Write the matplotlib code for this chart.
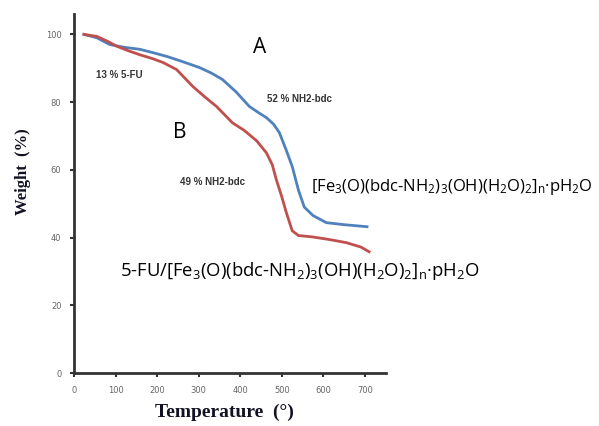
#!/usr/bin/env python3
"""TGA curves of the NH2-MIL type iron framework before and after 5-FU loading."""

import matplotlib
matplotlib.use("Agg")
import matplotlib.pyplot as plt

# curve A: bare framework
temp_a = [24, 55, 86, 120, 158, 190, 223, 260, 302, 330, 357, 390, 422, 445,
          463, 480, 494, 510, 525, 540, 554, 575, 607, 650, 705]
weight_a = [100, 99, 97, 96.2, 95.6, 94.6, 93.5, 92, 90.2, 88.6, 86.7, 83, 78.7,
            76.8, 75.4, 73.5, 71, 66, 61, 54, 49, 46.5, 44.4, 43.8, 43.2]

# curve B: 5-FU loaded framework
temp_b = [24, 55, 80, 103, 130, 158, 190, 214, 247, 286, 315, 343, 381, 410,
          440, 463, 477, 487, 500, 511, 525, 540, 573, 615, 655, 690, 710]
weight_b = [100, 99.4, 98, 96.5, 95.2, 94, 92.8, 91.7, 89.6, 84.6, 81.5, 78.7,
            73.9, 71.6, 68.5, 65, 61.5, 57, 52, 47.3, 42, 40.6, 40.2, 39.4, 38.5,
            37.2, 35.8]

x_ticks = [0, 100, 200, 300, 400, 500, 600, 700]
y_ticks = [0, 20, 40, 60, 80, 100]

formula_a = r"[Fe$_3$(O)(bdc-NH$_2$)$_3$(OH)(H$_2$O)$_2$]$_n$·pH$_2$O"
formula_b = r"5-FU/[Fe$_3$(O)(bdc-NH$_2$)$_3$(OH)(H$_2$O)$_2$]$_n$·pH$_2$O"

plt.rcParams["mathtext.fontset"] = "custom"
plt.rcParams["mathtext.rm"] = "Open Sans"
plt.rcParams["mathtext.it"] = "Open Sans"
plt.rcParams["mathtext.bf"] = "Open Sans"

fig = plt.figure(figsize=(5.99, 4.26), dpi=100)
ax = fig.add_axes([0.1235, 0.1244, 0.5205, 0.8426])

ax.plot(temp_a, weight_a, color="#4f81bd", lw=2.0)
ax.plot(temp_b, weight_b, color="#c0504d", lw=2.0)

ax.set_xlim(0, 750)
ax.set_ylim(0, 106)
ax.set_xticks(x_ticks)
ax.set_yticks(y_ticks)
ax.tick_params(labelsize=6, labelcolor="#666666", color="#333333",
               length=3, width=1.5, pad=6)
for side in ("top", "right"):
    ax.spines[side].set_visible(False)
for side in ("left", "bottom"):
    ax.spines[side].set_linewidth(2)
    ax.spines[side].set_color("#333333")

ax.text(446, 96, "A", fontsize=15, family="Open Sans", ha="center", va="center")
ax.text(254, 71, "B", fontsize=15, family="Open Sans", ha="center", va="center")

small = dict(fontsize=7, fontweight="bold", family="Liberation Sans",
             color="#333333", va="center")
ax.text(110, 88, "13 % 5-FU", ha="center", **small)
ax.text(465, 81, "52 % NH2-bdc", ha="left", **small)
ax.text(254, 56.5, "49 % NH2-bdc", ha="left", **small)

ax.text(571, 55, formula_a, fontsize=12, family="Open Sans",
        ha="left", va="center", clip_on=False)
ax.text(110, 30, formula_b, fontsize=13.3, family="Open Sans",
        ha="left", va="center", clip_on=False)

ax.set_xlabel("Temperature  (°)", fontsize=14, fontweight="bold",
              family="Liberation Serif", color="#111122")
ax.set_ylabel("Weight  (%)", fontsize=12, fontweight="bold",
              family="Liberation Serif", color="#111122")
ax.xaxis.set_label_coords(0.484, -0.109)
ax.xaxis.label.set_va("center")
ax.yaxis.set_label_coords(-0.163, 0.56)
ax.yaxis.label.set_va("center")

fig.savefig("out.png", dpi=100)
